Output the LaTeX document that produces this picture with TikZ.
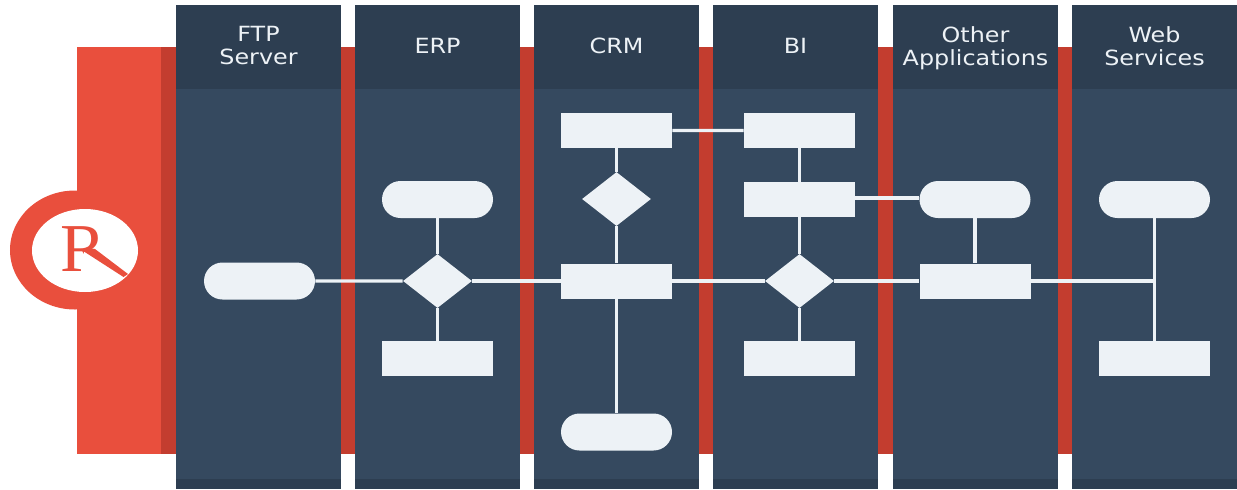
\documentclass[tikz,border=0pt]{standalone}
\usepackage{fontspec}
\newfontfamily\headfont[FakeStretch=1.14]{DejaVu Sans}
\newfontfamily\logofont{Liberation Serif}
\usetikzlibrary{positioning,shapes.geometric,shapes.misc}
\definecolor{bandred}{HTML}{E94F3D}
\definecolor{banddark}{HTML}{C33D2F}
\definecolor{colhead}{HTML}{2D3E51}
\definecolor{colbody}{HTML}{35495F}
\definecolor{flowlight}{HTML}{EDF2F6}
\tikzset{>=latex}
\tikzset{
  head/.style={rectangle, fill=colhead, text=flowlight, minimum width=3.3cm, minimum height=1.68cm, inner sep=0pt, align=center, text depth=0.05cm, font=\headfont\fontsize{11.9}{13.1}\selectfont},
  body/.style={rectangle, fill=colbody, minimum width=3.3cm, minimum height=8cm, inner sep=0pt},
  foot/.style={rectangle, fill=colhead, minimum width=3.3cm, minimum height=0.2cm, inner sep=0pt},
  pill/.style={rounded rectangle, fill=flowlight, minimum width=2.22cm, minimum height=0.74cm, inner sep=0pt},
  box/.style={rectangle, fill=flowlight, minimum width=2.22cm, minimum height=0.7cm, inner sep=0pt},
  gate/.style={diamond, fill=flowlight, minimum width=1.38cm, minimum height=1.08cm, shape aspect=1.28, inner sep=0pt},
  link/.style={draw=flowlight, line width=1.9pt}
}

\begin{document}
\begin{tikzpicture}
      \useasboundingbox (0,0) rectangle (24.74,-9.78);
      \fill[bandred] (1.54,-0.94) rectangle (3.22,-9.08);
      \fill[banddark] (3.22,-0.94) rectangle (21.44,-9.08);
      \node[ellipse, fill=bandred, minimum width=2.6cm, minimum height=2.38cm, inner sep=0pt] (ring) at (1.5,-5) {};
      \node[ellipse, fill=white, minimum width=2.12cm, minimum height=1.66cm, inner sep=0pt] (hole) at (1.7,-5.01) {};
      \node[text=bandred, inner sep=0pt, font=\logofont\fontsize{39}{39}\selectfont] (logo) at (1.67,-4.98) {R};
      \fill[white] (1.68,-5.03) -- (1.68,-5.5) -- (2.3,-5.5) -- (2.3,-5.3) -- cycle;
      \fill[bandred] (1.72,-4.95) -- (1.9,-4.98) -- (2.56,-5.48) -- (2.47,-5.54) -- (1.68,-5.03) -- cycle;

      \node[head] (h1) at (5.17,-0.94) {FTP\\Server};
      \node[head, right of=h1, node distance=3.58cm] (h2) {ERP};
      \node[head, right of=h2, node distance=3.58cm] (h3) {CRM};
      \node[head, right of=h3, node distance=3.58cm] (h4) {BI};
      \node[head, right of=h4, node distance=3.6cm] (h5) {Other\\Applications};
      \node[head, right of=h5, node distance=3.58cm] (h6) {Web\\Services};
      \node[body, below of=h1, node distance=4.84cm] (b1) {};
      \node[body, below of=h2, node distance=4.84cm] (b2) {};
      \node[body, below of=h3, node distance=4.84cm] (b3) {};
      \node[body, below of=h4, node distance=4.84cm] (b4) {};
      \node[body, below of=h5, node distance=4.84cm] (b5) {};
      \node[body, below of=h6, node distance=4.84cm] (b6) {};
      \node[foot, below of=h1, node distance=8.74cm] (f1) {};
      \node[foot, below of=h2, node distance=8.74cm] (f2) {};
      \node[foot, below of=h3, node distance=8.74cm] (f3) {};
      \node[foot, below of=h4, node distance=8.74cm] (f4) {};
      \node[foot, below of=h5, node distance=8.74cm] (f5) {};
      \node[foot, below of=h6, node distance=8.74cm] (f6) {};

      \node[pill] (n0) at (5.19,-5.62) {};
      \node[gate, right of=n0, node distance=3.56cm] (n1) {};
      \node[pill, above of=n1, node distance=1.63cm] (n2) {};
      \node[box, below of=n1, node distance=1.55cm] (n3) {};
      \node[box, right of=n1, node distance=3.58cm] (n4) {};
      \node[gate, above of=n4, node distance=1.64cm] (n5) {};
      \node[box, above of=n5, node distance=1.37cm] (n6) {};
      \node[pill, below of=n4, node distance=3.02cm] (n7) {};
      \node[gate, right of=n4, node distance=3.66cm] (n8) {};
      \node[box, above of=n8, node distance=1.63cm] (n9) {};
      \node[box, above of=n9, node distance=1.38cm] (n10) {};
      \node[box, below of=n8, node distance=1.55cm] (n11) {};
      \node[box, right of=n8, node distance=3.51cm] (n12) {};
      \node[pill, above of=n12, node distance=1.63cm] (n13) {};
      \coordinate[right of=n12, node distance=3.59cm] (aux1);
      \node[pill, above of=aux1, node distance=1.63cm] (n14) {};
      \node[box, below of=aux1, node distance=1.55cm] (n15) {};

      \draw[link] (n0) -- (n1);
      \draw[link] (n2) -- (n1);
      \draw[link] (n1) -- (n3);
      \draw[link] (n1) -- (n4);
      \draw[link] (n6) -- (n5);
      \draw[link] (n5) -- (n4);
      \draw[link] (n4) -- (n7);
      \draw[link] (n6) -- (n10);
      \draw[link] (n10) -- (n9);
      \draw[link] (n9) -- (n8);
      \draw[link] (n8) -- (n11);
      \draw[link] (n4) -- (n8);
      \draw[link] ([yshift=0.03cm]n9.east) -- ([yshift=0.03cm]n13.west);
      \draw[link] (n13) -- (n12);
      \draw[link] (n8) -- (n12);
      \draw[link] (n12) -- (aux1);
      \draw[link] (n14) -- (n15);
    \end{tikzpicture}
\end{document}
